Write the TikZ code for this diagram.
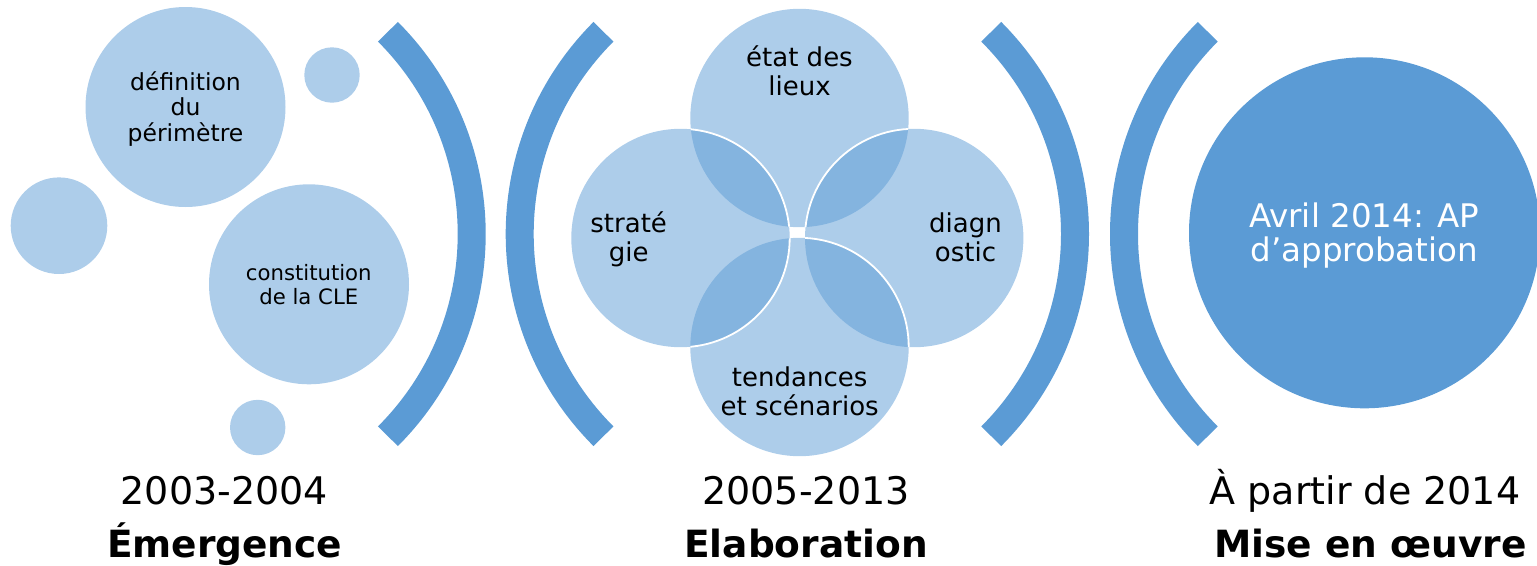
\documentclass[tikz,border=0pt]{standalone}
\usepackage{fontspec}
\setmainfont{DejaVu Sans}
\definecolor{acc}{RGB}{91,155,213}
\begin{document}
\begin{tikzpicture}[x=1pt,y=-1pt,
  soft/.style={fill=acc, fill opacity=0.5},
  bracket/.style={draw=acc, line width=28pt},
  rim/.style={draw=white, line width=1.8pt},
  lbl/.style={anchor=base, inner sep=0pt, text=black},
  ftA/.style={font=\fontsize{23.5}{26}\selectfont},
  ftB/.style={font=\fontsize{21.2}{24}\selectfont},
  ftC/.style={font=\fontsize{26}{29}\selectfont},
  ftD/.style={font=\fontsize{32.5}{34}\selectfont},
  year/.style={font=\fontsize{38}{40}\selectfont},
  phase/.style={font=\fontsize{37.5}{40}\selectfont\bfseries}]
\useasboundingbox (0,0) rectangle (1537,565);

% ---- left cluster (Emergence)
\fill[soft] (185.5,107) circle[radius=100];
\fill[soft] (332,75) circle[radius=27.7];
\fill[soft] (59,225.7) circle[radius=48.3];
\fill[soft] (309,284.3) circle[radius=100];
\fill[soft] (257.7,427.5) circle[radius=27.7];

\node[lbl,ftA] (d1) at (185.5,90) {définition};
\node[lbl,ftA] (d2) at (185.5,115.7) {du};
\node[lbl,ftA] (d3) at (185.5,141.7) {périmètre};
\node[lbl,ftB] (c1) at (308.8,280) {constitution};
\node[lbl,ftB] (c2) at (308.8,304) {de la CLE};

% ---- brackets
\draw[bracket] (185.7,234) ++(-45:286) arc[start angle=-45, end angle=45, radius=286];
\draw[bracket] (805.7,234) ++(135:286) arc[start angle=135, end angle=225, radius=286];
\draw[bracket] (789,234) ++(-45:286) arc[start angle=-45, end angle=45, radius=286];
\draw[bracket] (1410,234) ++(135:286) arc[start angle=135, end angle=225, radius=286];

% ---- middle cluster (Elaboration)
\coordinate (ctop) at (799.5,118);
\coordinate (cright) at (914.2,238);
\coordinate (cbot) at (799.5,347);
\coordinate (cleft) at (680.5,238);
\fill[soft] (ctop) circle[radius=109.2];
\fill[soft] (cright) circle[radius=109.2];
\fill[soft] (cbot) circle[radius=109.2];
\fill[soft] (cleft) circle[radius=109.2];
\begin{scope}
  \clip (ctop) circle[radius=109.2];
  \draw[rim] (cright) circle[radius=109.2];
  \draw[rim] (cleft) circle[radius=109.2];
\end{scope}
\begin{scope}
  \clip (cright) circle[radius=109.2];
  \draw[rim] (cbot) circle[radius=109.2];
\end{scope}
\begin{scope}
  \clip (cbot) circle[radius=109.2];
  \draw[rim] (cleft) circle[radius=109.2];
\end{scope}

\node[lbl,ftC] (e1) at (799.5,66.7) {état des};
\node[lbl,ftC] (e2) at (799.5,95.7) {lieux};
\node[lbl,ftC] (s1) at (628.7,232.3) {straté};
\node[lbl,ftC] (s2) at (628.7,261.7) {gie};
\node[lbl,ftC] (g1) at (965.5,232.3) {diagn};
\node[lbl,ftC] (g2) at (965.5,261.7) {ostic};
\node[lbl,ftC] (t1) at (799.7,386.7) {tendances};
\node[lbl,ftC] (t2) at (799.7,415.7) {et scénarios};

% ---- right (Mise en oeuvre)
\fill[acc] (1364.5,232.8) circle[radius=175.5];
\node[lbl,ftD,text=white] (a1) at (1364.3,227.3) {Avril 2014: AP};
\node[lbl,ftD,text=white] (a2) at (1364.3,261.7) {d’approbation};

% ---- bottom labels
\node[lbl,year] (y1) at (224.3,504) {2003-2004};
\node[lbl,phase] (p1) at (224.7,557.7) {Émergence};
\node[lbl,year] (y2) at (806,504) {2005-2013};
\node[lbl,phase] (p2) at (806,557.7) {Elaboration};
\node[lbl,year] (y3) at (1365,504) {À partir de 2014};
\node[lbl,phase] (p3) at (1370.5,557.7) {Mise en œuvre};
\end{tikzpicture}
\end{document}
